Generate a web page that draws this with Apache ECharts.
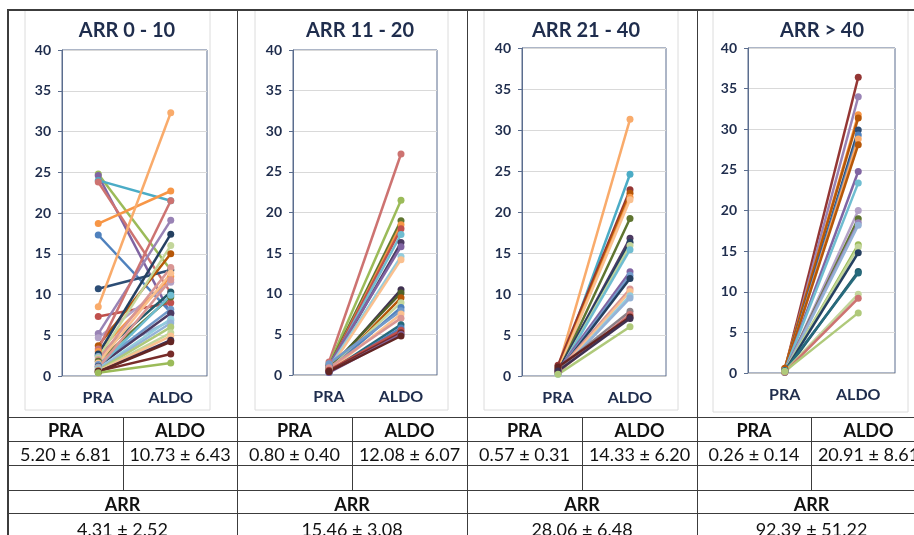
<!DOCTYPE html>
<html><head><meta charset="utf-8">
<script src="https://cdn.jsdelivr.net/npm/echarts@6/dist/echarts.min.js"></script>
<style>
html,body{margin:0;padding:0;background:#fff;}
#wrap{position:relative;width:914px;height:535px;overflow:hidden;font-family:Lato,"Open Sans",sans-serif;}
#chart{position:absolute;left:0;top:0;width:914px;height:535px;}
.ln{position:absolute;background:#3c3c3c;}
.cell{position:absolute;display:flex;align-items:center;justify-content:center;font-size:18px;color:#111;white-space:nowrap;}
.b{font-weight:bold;}
</style></head><body>
<div id="wrap"><div id="chart"></div><div id="tbl"></div></div>
<script>
// ---------- data ----------
const categories = ['PRA', 'ALDO'];
const panelTitles = ['ARR 0 - 10', 'ARR 11 - 20', 'ARR 21 - 40', 'ARR > 40'];
const yMin = 0, yMax = 40, yStep = 5;

// ARR 0 - 10
const pra1  = [24.8, 24.6, 24.0, 23.8, 18.7, 17.3, 10.7, 8.5, 7.3, 5.2, 4.7, 3.7, 3.3, 3.0, 2.7, 2.5, 2.4, 2.2, 2.0, 1.8, 1.6, 1.4, 1.2, 1.1, 1.0, 0.9, 0.8, 0.7, 0.6, 0.6, 0.6, 0.5, 0.5, 0.4];
const aldo1 = [13.0, 7.6, 21.5, 10.2, 22.7, 7.8, 13.0, 32.3, 9.0, 19.1, 11.5, 15.0, 21.5, 12.2, 17.4, 10.3, 6.8, 16.0, 13.3, 9.7, 12.6, 8.2, 7.7, 9.9, 11.8, 7.0, 6.5, 6.0, 5.3, 4.9, 2.7, 4.4, 4.2, 1.6];
// ARR 11 - 20
const pra2  = [1.6, 1.3, 1.1, 0.9, 1.0, 0.8, 0.7, 1.2, 0.9, 0.6, 0.5, 0.8, 0.4, 0.7, 0.6, 1.4, 0.5, 0.9, 0.4, 0.3, 0.6, 0.5, 0.3, 0.4];
const aldo2 = [27.2, 21.5, 19.0, 18.5, 18.0, 17.3, 16.3, 15.8, 14.6, 14.2, 10.5, 10.1, 9.5, 8.9, 8.3, 7.9, 7.5, 7.0, 6.2, 5.8, 5.5, 5.2, 5.0, 4.8];
// ARR 21 - 40
const pra3  = [0.9, 0.5, 1.3, 0.8, 0.7, 0.6, 0.4, 0.5, 0.6, 0.3, 0.3, 0.7, 0.5, 0.4, 0.6, 0.4, 0.2, 0.3, 0.9, 0.5, 1.1, 0.6, 0.2];
const aldo3 = [31.3, 24.6, 22.7, 22.3, 21.8, 21.5, 19.2, 16.8, 16.3, 15.9, 15.4, 12.7, 12.3, 11.9, 10.6, 10.3, 9.8, 9.5, 7.9, 7.5, 7.2, 7.0, 6.0];
// ARR > 40
const pra4  = [0.4, 0.3, 0.5, 0.6, 0.2, 0.3, 0.2, 0.4, 0.2, 0.3, 0.1, 0.2, 0.3, 0.1, 0.2, 0.3, 0.2, 0.1, 0.3, 0.2, 0.1, 0.2];
const aldo4 = [36.4, 34.0, 31.8, 31.4, 29.9, 29.3, 28.8, 28.1, 24.8, 23.4, 20.0, 19.0, 18.5, 18.2, 15.8, 15.5, 14.8, 12.5, 12.3, 9.7, 9.2, 7.4];

// table texts
const tableHeads = ['PRA', 'ALDO'];
const praStats  = ['5.20 ± 6.81', '0.80 ± 0.40', '0.57 ± 0.31', '0.26 ± 0.14'];
const aldoStats = ['10.73 ± 6.43', '12.08 ± 6.07', '14.33 ± 6.20', '20.91 ± 8.61'];
const arrLabel  = 'ARR';
const arrStats  = ['4.31 ± 2.52', '15.46 ± 3.08', '28.06 ± 6.48', '92.39 ± 51.22'];

// ---------- styles ----------
const C = {
  blue:'#4F81BD', red:'#C0504D', green:'#9BBB59', purple:'#8064A2', aqua:'#4BACC6', orange:'#F79646',
  dblue:'#2C4D75', dred:'#772C2A', dgreen:'#5F7530', dpurple:'#4D3B62', daqua:'#276A7C', dorange:'#B65708',
  lblue:'#729ACA', lred:'#CD7371', lgreen:'#AFC97A', lpurple:'#9983B5', laqua:'#6FBDD1', lorange:'#F9AB6B',
  xblue:'#254061', xred:'#632523', xgreen:'#4F6228', xpurple:'#3F3151', xaqua:'#215968', maroon:'#943634',
  pblue:'#95B3D7', pred:'#D99694', pgreen:'#C3D69B', ppurple:'#B3A2C7', paqua:'#93CDDD', porange:'#FAC08F', grey:'#8c7f86'
};
const colors1 = [C.green, C.purple, C.aqua, C.lred, C.orange, C.blue, C.dblue, C.lorange, C.red, C.lpurple, C.ppurple, C.dorange, C.lred, C.orange, C.xblue, C.xaqua, C.pblue, C.pgreen, C.pred, C.dgreen, C.porange, C.lblue, C.dpurple, C.laqua, C.pred, C.paqua, C.pblue, C.lgreen, C.pgreen, C.porange, C.dred, C.xpurple, C.xred, C.green];
const colors2 = [C.lred, C.green, C.dgreen, C.orange, C.red, C.laqua, C.dpurple, C.purple, C.paqua, C.porange, C.xpurple, C.xgreen, C.dorange, C.pgreen, C.blue, C.lblue, C.porange, C.pred, C.daqua, C.blue, C.red, C.dred, C.purple, C.xred];
const colors3 = [C.lorange, C.aqua, C.maroon, C.dorange, C.orange, C.porange, C.dgreen, C.dpurple, C.xblue, C.pgreen, C.laqua, C.purple, C.lblue, C.xblue, C.pred, C.porange, C.paqua, C.pblue, C.grey, C.lred, C.xred, C.xpurple, C.lgreen];
const colors4 = [C.maroon, C.lpurple, C.orange, C.dorange, C.dblue, C.blue, C.lorange, C.dorange, C.purple, C.laqua, C.ppurple, C.dgreen, C.lpurple, C.pblue, C.green, C.pgreen, C.xblue, C.xaqua, C.daqua, C.pgreen, C.lred, C.lgreen];

const panels = [
  {pra: pra1, aldo: aldo1, colors: colors1, grid: {left: 62, top: 50, width: 145, height: 326}, titleX: 122, box: [25, 10, 185, 400]},
  {pra: pra2, aldo: aldo2, colors: colors2, grid: {left: 293, top: 50, width: 144, height: 325}, titleX: 355, box: [255, 10, 193, 400]},
  {pra: pra3, aldo: aldo3, colors: colors3, grid: {left: 522, top: 48, width: 144, height: 328}, titleX: 581, box: [484, 10, 194, 400]},
  {pra: pra4, aldo: aldo4, colors: colors4, grid: {left: 748, top: 48, width: 147, height: 325}, titleX: 817, box: [713, 10, 195, 402]}
];

const FONT = 'Lato, "Open Sans", sans-serif';
const AXIS_DARK = '#5b6d8e';
const LABEL = '#1f2d4d';

const option = {
  animation: false,
  title: [], grid: [], xAxis: [], yAxis: [], series: [],
  graphic: []
};

panels.forEach((p, i) => {
  option.graphic.push({
    type: 'rect', z: -1, silent: true,
    shape: {x: p.box[0], y: p.box[1], width: p.box[2], height: p.box[3]},
    style: {fill: '#fff', stroke: '#dcdcdc', lineWidth: 1}
  });
  option.title.push({
    text: panelTitles[i], left: p.titleX, top: 16, textAlign: 'center',
    textStyle: {fontFamily: FONT, fontWeight: 'bold', fontSize: 20, color: '#1f2d4d'}
  });
  option.grid.push(Object.assign({show: true, borderColor: AXIS_DARK, borderWidth: 1, backgroundColor: 'transparent'}, p.grid));
  option.xAxis.push({
    type: 'category', gridIndex: i, data: categories, boundaryGap: true,
    axisLine: {lineStyle: {color: '#c4c4c4'}}, axisTick: {show: false},
    axisLabel: {fontFamily: FONT, fontWeight: 'bold', fontSize: 16, color: LABEL, margin: 14}
  });
  option.yAxis.push({
    type: 'value', gridIndex: i, min: yMin, max: yMax, interval: yStep,
    axisLine: {show: true, lineStyle: {color: AXIS_DARK}},
    axisTick: {show: true, inside: false, length: 4, lineStyle: {color: AXIS_DARK}},
    splitLine: {lineStyle: {color: '#d9d9d9'}},
    axisLabel: {fontFamily: FONT, fontWeight: 'bold', fontSize: 14, color: LABEL, margin: 11}
  });
  p.pra.forEach((v, k) => {
    option.series.push({
      type: 'line', xAxisIndex: i, yAxisIndex: i,
      data: [v, p.aldo[k]],
      symbol: 'circle', symbolSize: 7,
      lineStyle: {width: 2.5, color: p.colors[k % p.colors.length]},
      itemStyle: {color: p.colors[k % p.colors.length]},
      emphasis: {disabled: true}
    });
  });
});

const chart = echarts.init(document.getElementById('chart'));
chart.setOption(option);

// ---------- table ----------
const tbl = document.getElementById('tbl');
function line(x, y, w, h) {
  const d = document.createElement('div');
  d.className = 'ln';
  d.style.cssText = `left:${x}px;top:${y}px;width:${w}px;height:${h}px;`;
  tbl.appendChild(d);
}
function cell(text, x, y, w, h, bold) {
  const d = document.createElement('div');
  d.className = 'cell' + (bold ? ' b' : '');
  d.style.cssText = `left:${x}px;top:${y}px;width:${w}px;height:${h}px;`;
  d.textContent = text;
  tbl.appendChild(d);
}
const colX = [8, 237, 467, 697, 926];
const subX = [123, 352, 582, 811];
const rowY = [417, 441, 465, 490, 513];
// frame
line(7, 9, 914, 2);
line(7, 9, 2, 540);
[237, 467, 697].forEach(x => line(x, 9, 1, 540));
rowY.forEach(y => line(8, y, 914, 1));
subX.forEach(x => line(x, 417, 1, 73));
for (let i = 0; i < 4; i++) {
  const x0 = colX[i], xm = subX[i], x1 = colX[i + 1];
  cell(tableHeads[0], x0, 418, xm - x0, 23, true);
  cell(tableHeads[1], xm, 418, x1 - xm, 23, true);
  cell(praStats[i], x0, 442, xm - x0, 23, false);
  cell(aldoStats[i], xm, 442, x1 - xm, 23, false);
  cell(arrLabel, x0, 493, x1 - x0, 22, true);
  cell(arrStats[i], x0, 517, x1 - x0, 24, false);
}
</script>
</body></html>
